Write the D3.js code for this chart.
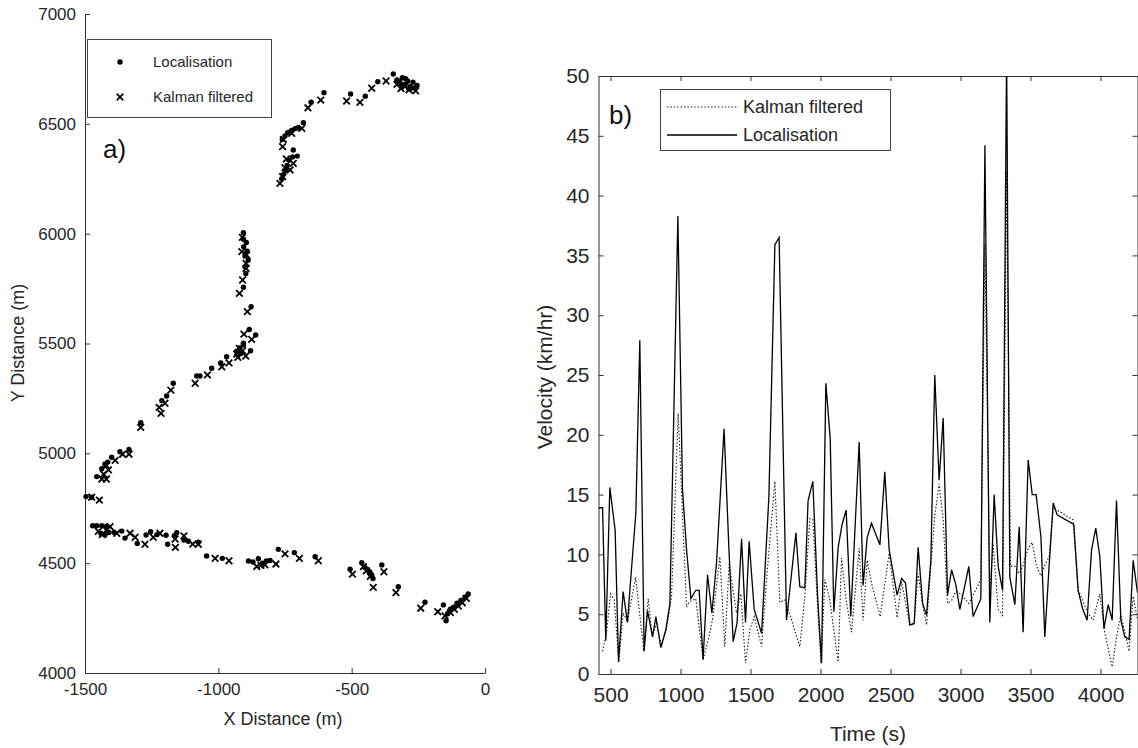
<!DOCTYPE html>
<html>
<head>
<meta charset="utf-8">
<script src="https://cdn.jsdelivr.net/npm/d3@7"></script>
<style>
  body { margin: 0; background: #fff; }
  svg { font-family: "Liberation Sans", Arial, sans-serif; }
  .axis path, .axis line { stroke: #333; }
  .axis text { fill: #262626; }
</style>
</head>
<body>
<div id="chart"></div>
<script>
// panel a) positions, metres
const localisation = [
  [-63,4360],[-75,4345],[-90,4330],[-105,4318],[-118,4300],[-130,4290],[-146,4238],[-140,4270],[-156,4310],[-225,4322],
  [-325,4393],[-387,4492],
  [-462,4502],[-450,4480],[-440,4470],[-432,4460],[-425,4445],[-420,4430],[-430,4450],
  [-506,4472],[-637,4529],[-715,4548],[-775,4563],
  [-887,4510],[-870,4505],[-850,4520],[-835,4500],[-820,4510],[-806,4512],
  [-985,4522],[-1044,4533],
  [-1075,4595],[-1112,4600],[-1129,4605],[-1156,4639],[-1165,4625],[-1190,4586],[-1196,4627],[-1230,4630],[-1254,4643],
  [-1271,4628],[-1304,4590],[-1350,4614],[-1362,4646],[-1390,4640],
  [-1419,4668],[-1437,4670],[-1456,4670],[-1471,4670],[-1440,4635],[-1425,4628],[-1410,4640],
  [-1496,4803],[-1475,4800],
  [-1456,4894],[-1437,4930],[-1425,4950],[-1415,4960],[-1400,4982],[-1369,5007],[-1335,5018],
  [-1291,5139],[-1212,5240],[-1194,5261],[-1169,5319],[-1081,5352],[-1069,5352],[-1025,5387],[-991,5412],[-969,5440],
  [-931,5465],[-920,5480],[-906,5493],[-915,5455],[-879,5467],[-906,5501],[-860,5539],[-884,5564],[-877,5667],
  [-906,5756],[-897,5819],[-900,5849],[-888,5880],[-900,5900],[-892,5920],[-905,5940],[-895,5960],[-906,5975],[-906,6004],
  [-762,6250],[-755,6270],[-748,6290],[-742,6310],[-735,6335],[-722,6349],[-704,6353],[-719,6381],
  [-760,6430],[-750,6445],[-740,6460],[-725,6470],[-712,6478],[-700,6482],[-681,6505],
  [-652,6598],[-604,6642],[-504,6636],[-449,6626],[-402,6692],[-344,6727],
  [-330,6700],[-320,6690],[-310,6710],[-300,6680],[-290,6695],[-280,6670],[-270,6690],[-262,6665],[-255,6675],
  [-315,6670],[-298,6705],[-285,6660]
];

const kalman = [
  [-70,4340],[-85,4320],[-100,4305],[-115,4290],[-130,4275],[-150,4260],[-177,4279],[-241,4295],
  [-334,4366],[-379,4461],[-419,4390],[-430,4440],[-445,4465],[-456,4484],
  [-497,4450],[-625,4511],[-696,4522],[-750,4542],[-784,4496],
  [-856,4485],[-840,4490],[-825,4492],
  [-960,4511],[-1012,4522],[-1075,4586],[-1096,4587],[-1129,4624],[-1162,4610],[-1161,4572],[-1219,4636],
  [-1244,4618],[-1275,4586],[-1312,4618],[-1331,4636],[-1381,4636],[-1406,4666],[-1420,4650],[-1435,4630],[-1450,4645],
  [-1475,4800],[-1446,4787],
  [-1437,4883],[-1420,4883],[-1430,4905],[-1412,4925],[-1420,4945],[-1387,4968],[-1359,4996],[-1335,4996],
  [-1291,5118],[-1215,5182],[-1222,5209],[-1200,5228],[-1178,5288],[-1087,5319],[-1041,5357],[-987,5394],[-960,5412],
  [-927,5437],[-897,5443],[-931,5452],[-909,5467],[-921,5478],[-875,5519],[-904,5543],[-891,5645],[-921,5728],
  [-909,5789],[-896,5842],[-896,5865],[-894,5903],[-912,5918],[-910,5983],
  [-769,6229],[-759,6260],[-750,6300],[-731,6290],[-719,6320],[-745,6340],
  [-759,6396],[-756,6429],[-725,6457],[-687,6479],
  [-664,6573],[-616,6608],[-519,6604],[-469,6598],[-425,6662],[-371,6695],
  [-330,6680],[-315,6660],[-300,6670],[-285,6655],[-270,6660],[-320,6695],[-260,6650]
];

// panel b) velocity over time
const timeLoc = [414,443,466,495,533,557,590,621,640,681,709,740,764,781,800,824,859,895,924,981,
  1014,1043,1074,1109,1133,1161,1193,1224,1257,1311,1345,1376,1404,1436,1464,1490,1526,1579,1631,1674,
  1704,1757,1793,1824,1852,1888,1911,1945,1979,2007,2038,2069,2095,2126,2154,2183,2216,2276,2304,2333,
  2364,2424,2459,2490,2547,2579,2607,2638,2669,2697,2729,2757,2788,2816,2847,2876,2907,2936,2966,2995,
  3059,3090,3145,3174,3209,3240,3269,3300,3329,3352,3388,3419,3447,3483,3512,3540,3574,3602,3633,3662,
  3690,3809,3840,3871,3904,3936,3966,3995,4024,4055,4083,4114,4145,4173,4204,4233,4264];
const velLoc = [13.9,13.9,2.8,15.6,12.0,1.0,6.9,4.3,7.3,13.5,27.9,1.9,5.3,4.3,3.1,4.8,2.2,3.7,5.9,38.3,
  15.4,10.4,6.3,7.0,7.0,1.2,8.3,5.1,9.3,20.5,10.6,2.7,4.3,11.3,4.3,11.1,5.4,3.4,14.8,35.9,
  36.5,4.5,8.4,11.8,7.3,7.2,14.5,16.1,6.5,0.9,24.3,19.7,5.2,10.6,12.5,13.7,4.8,19.4,7.4,11.4,
  12.6,10.8,16.9,10.4,6.6,8.0,7.6,4.1,4.2,10.6,5.9,4.9,9.5,25.0,16.2,21.4,6.6,8.7,7.5,5.4,
  9.0,4.8,6.3,44.2,4.3,15.0,9.0,7.0,52,8.1,5.8,12.3,3.5,17.9,15.0,15.0,11.5,3.1,9.1,14.3,
  13.3,12.5,7.0,5.5,4.5,10.4,12.2,9.8,3.8,5.8,4.5,14.5,4.5,3.1,2.9,9.5,6.8];

const timeKal = [443,471,500,526,559,590,621,679,738,769,797,829,864,900,936,983,1043,1061,1109,1161,
  1197,1229,1281,1316,1347,1400,1431,1464,1495,1526,1579,1614,1674,1709,1745,1793,1852,1888,1924,1945,
  1979,2004,2031,2066,2126,2150,2183,2221,2276,2304,2333,2364,2426,2490,2547,2579,2638,2669,2697,2729,
  2757,2788,2816,2847,2876,2907,2938,2966,3000,3059,3090,3145,3174,3209,3233,3269,3300,3329,3357,3388,
  3419,3447,3483,3512,3543,3574,3602,3633,3662,3690,3804,3840,3871,3904,3947,3995,4031,4083,4114,4145,
  4173,4204,4233,4264];
const velKal = [1.9,3.4,6.7,6.2,1.0,5.1,4.4,8.1,1.9,6.3,3.2,4.2,2.3,3.8,6.5,21.8,5.6,6.0,6.3,1.2,
  2.8,4.6,9.8,2.3,9.2,5.1,6.7,0.9,3.7,4.8,2.3,7.9,16.1,6.0,6.2,4.5,2.3,6.5,13.0,12.9,
  5.6,0.9,7.9,6.2,1.0,9.7,6.2,3.5,10.5,4.5,9.5,7.6,4.8,10.1,4.7,7.7,4.1,4.3,8.4,5.8,
  4.1,9.0,13.2,15.9,12.9,5.9,6.2,6.9,6.7,5.9,6.6,7.9,36,7.0,10.9,5.4,4.9,42,9.0,9.0,
  8.4,9.1,10.5,11.0,9.0,8.2,9.1,9.8,13.9,13.7,12.9,7.0,6.2,5.2,4.5,6.7,3.4,0.6,3.1,5.0,
  3.5,1.9,6.5,4.5];

const xTicksA = [-1500, -1000, -500, 0];
const yTicksA = [4000, 4500, 5000, 5500, 6000, 6500, 7000];
const xTicksB = [500, 1000, 1500, 2000, 2500, 3000, 3500, 4000];
const yTicksB = [0, 5, 10, 15, 20, 25, 30, 35, 40, 45, 50];

const plain = d => String(d);

const svg = d3.select('#chart').append('svg')
  .attr('width', 1138)
  .attr('height', 748);

svg.append('rect').attr('width', 1138).attr('height', 748).attr('fill', '#fff');

// ---------- panel a ----------
const xa = d3.scaleLinear().domain([-1500, 0]).range([85, 485]);
const ya = d3.scaleLinear().domain([4000, 7000]).range([673, 14]);

svg.append('g')
  .attr('class', 'axis')
  .attr('transform', 'translate(0,673)')
  .call(d3.axisBottom(xa).tickValues(xTicksA).tickFormat(plain).tickSizeInner(-5).tickSizeOuter(0).tickPadding(10))
  .call(g => g.selectAll('text').style('font-size', '17px'));

svg.append('g')
  .attr('class', 'axis')
  .attr('transform', 'translate(85,0)')
  .call(d3.axisLeft(ya).tickValues(yTicksA).tickFormat(plain).tickSizeInner(-5).tickSizeOuter(0).tickPadding(9))
  .call(g => g.selectAll('text').style('font-size', '17px'));

svg.append('text')
  .attr('x', 283).attr('y', 725)
  .attr('text-anchor', 'middle')
  .attr('fill', '#262626')
  .style('font-size', '18px')
  .text('X Distance (m)');

svg.append('text')
  .attr('transform', 'translate(24,343) rotate(-90)')
  .attr('text-anchor', 'middle')
  .attr('fill', '#262626')
  .style('font-size', '18px')
  .text('Y Distance (m)');

const cross = d3.symbol().type(d3.symbolX).size(30);

svg.append('g').selectAll('path')
  .data(kalman)
  .enter().append('path')
  .attr('d', cross)
  .attr('transform', d => `translate(${xa(d[0])},${ya(d[1])})`)
  .attr('fill', 'none')
  .attr('stroke', '#000')
  .attr('stroke-width', 1.8);

svg.append('g').selectAll('circle')
  .data(localisation)
  .enter().append('circle')
  .attr('cx', d => xa(d[0]))
  .attr('cy', d => ya(d[1]))
  .attr('r', 2.7)
  .attr('fill', '#000');

svg.append('text')
  .attr('x', 103).attr('y', 158)
  .attr('fill', '#111')
  .style('font-size', '26px')
  .text('a)');

const legA = svg.append('g');
legA.append('rect')
  .attr('x', 87.5).attr('y', 39.5).attr('width', 184).attr('height', 78)
  .attr('fill', '#fff').attr('stroke', '#444').attr('stroke-width', 1);
legA.append('circle').attr('cx', 120).attr('cy', 62).attr('r', 2.7).attr('fill', '#000');
legA.append('path').attr('d', cross).attr('transform', 'translate(120,97)')
  .attr('fill', 'none').attr('stroke', '#000').attr('stroke-width', 1.8);
legA.append('text').attr('x', 153).attr('y', 67).attr('fill', '#262626')
  .style('font-size', '15px').text('Localisation');
legA.append('text').attr('x', 153).attr('y', 102).attr('fill', '#262626')
  .style('font-size', '15px').text('Kalman filtered');

// ---------- panel b ----------
const bLeft = 598.5, bRight = 1137.5, bTop = 76, bBottom = 674;
const xb = d3.scaleLinear().domain([414, 4264]).range([bLeft, bRight]);
const yb = d3.scaleLinear().domain([0, 50]).range([bBottom, bTop]);

svg.append('g')
  .attr('class', 'axis')
  .attr('transform', `translate(0,${bBottom})`)
  .call(d3.axisBottom(xb).tickValues(xTicksB).tickFormat(plain).tickSizeInner(-5).tickSizeOuter(0).tickPadding(13))
  .call(g => g.selectAll('text').style('font-size', '21px'));

svg.append('g')
  .attr('class', 'axis')
  .attr('transform', `translate(0,${bTop})`)
  .call(d3.axisTop(xb).tickValues(xTicksB).tickSizeInner(-5).tickSizeOuter(0).tickFormat(''));

svg.append('g')
  .attr('class', 'axis')
  .attr('transform', `translate(${bLeft},0)`)
  .call(d3.axisLeft(yb).tickValues(yTicksB).tickFormat(plain).tickSizeInner(-5).tickSizeOuter(0).tickPadding(9))
  .call(g => g.selectAll('text').style('font-size', '21px'));

svg.append('g')
  .attr('class', 'axis')
  .attr('transform', `translate(${bRight},0)`)
  .call(d3.axisRight(yb).tickValues(yTicksB).tickSizeInner(-5).tickSizeOuter(0).tickFormat(''));

svg.append('text')
  .attr('x', 868).attr('y', 741)
  .attr('text-anchor', 'middle')
  .attr('fill', '#262626')
  .style('font-size', '21px')
  .text('Time (s)');

svg.append('text')
  .attr('transform', 'translate(552,377) rotate(-90)')
  .attr('text-anchor', 'middle')
  .attr('fill', '#262626')
  .style('font-size', '21px')
  .text('Velocity (km/hr)');

svg.append('clipPath').attr('id', 'clipB')
  .append('rect')
  .attr('x', bLeft).attr('y', bTop).attr('width', bRight - bLeft).attr('height', bBottom - bTop);

const line = d3.line().x(d => xb(d[0])).y(d => yb(d[1]));

const plotB = svg.append('g').attr('clip-path', 'url(#clipB)');

plotB.append('path')
  .datum(d3.zip(timeKal, velKal))
  .attr('d', line)
  .attr('fill', 'none')
  .attr('stroke', '#111')
  .attr('stroke-width', 1.1)
  .attr('stroke-dasharray', '1.4,2');

plotB.append('path')
  .datum(d3.zip(timeLoc, velLoc))
  .attr('d', line)
  .attr('fill', 'none')
  .attr('stroke', '#000')
  .attr('stroke-width', 1.3);

svg.append('text')
  .attr('x', 609).attr('y', 124)
  .attr('fill', '#111')
  .style('font-size', '26px')
  .text('b)');

const legB = svg.append('g');
legB.append('rect')
  .attr('x', 660.5).attr('y', 89.5).attr('width', 230).attr('height', 61)
  .attr('fill', '#fff').attr('stroke', '#444').attr('stroke-width', 1);
legB.append('line').attr('x1', 667).attr('x2', 737).attr('y1', 107).attr('y2', 107)
  .attr('stroke', '#111').attr('stroke-width', 1.1).attr('stroke-dasharray', '1.4,2');
legB.append('line').attr('x1', 667).attr('x2', 737).attr('y1', 135).attr('y2', 135)
  .attr('stroke', '#000').attr('stroke-width', 1.3);
legB.append('text').attr('x', 743).attr('y', 113).attr('fill', '#262626')
  .style('font-size', '18px').text('Kalman filtered');
legB.append('text').attr('x', 743).attr('y', 141).attr('fill', '#262626')
  .style('font-size', '18px').text('Localisation');
</script>
</body>
</html>
